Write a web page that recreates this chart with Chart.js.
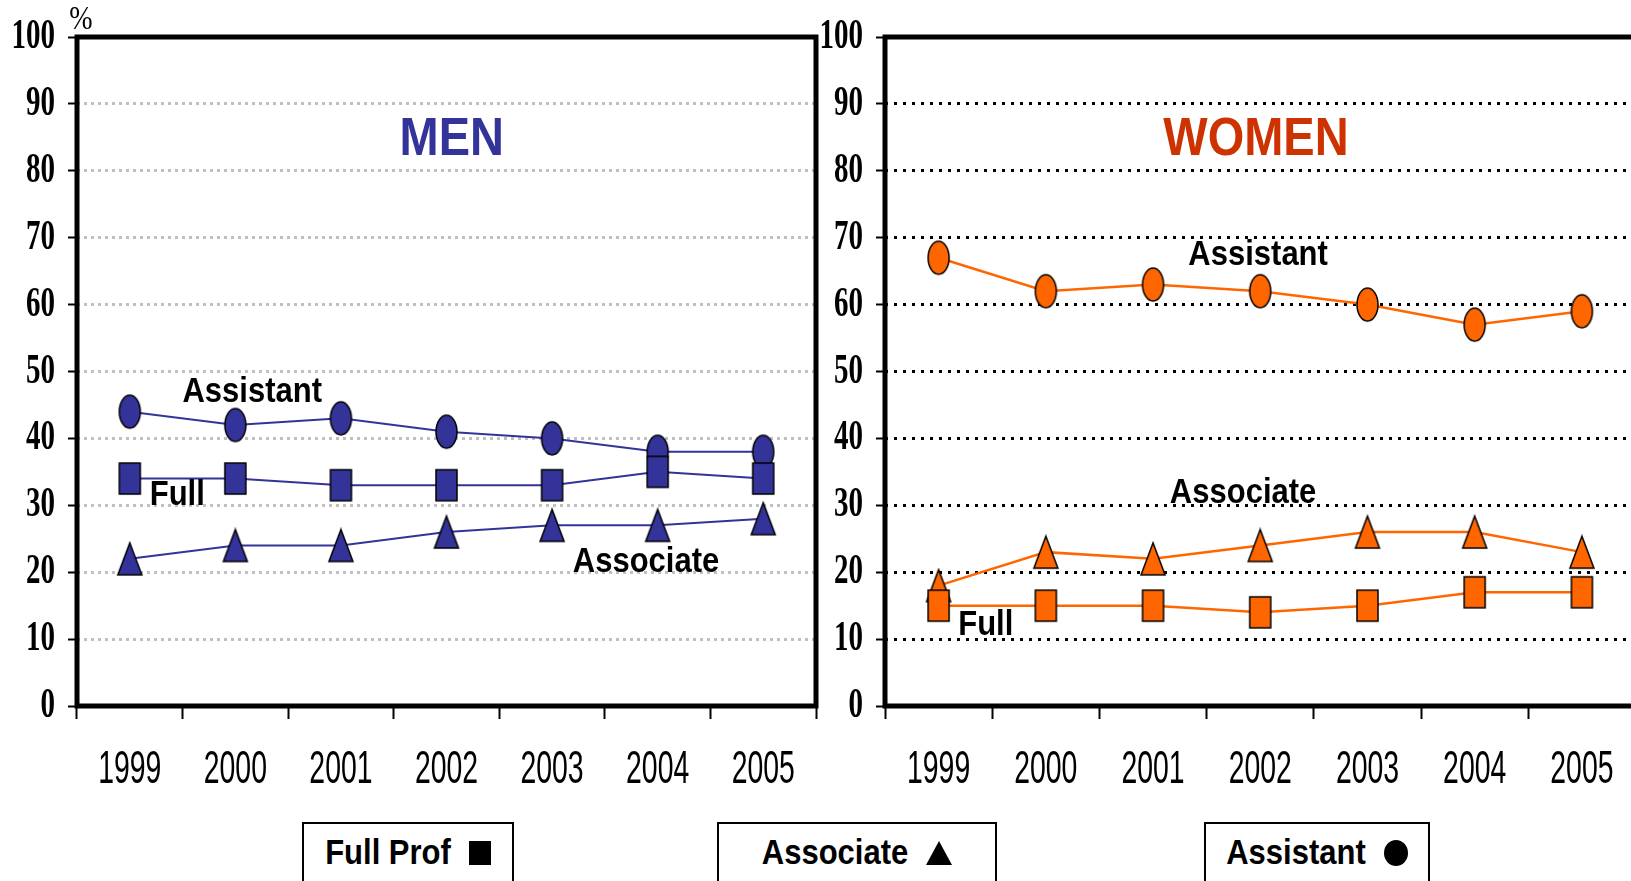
<!DOCTYPE html>
<html lang="en">
<head>
<meta charset="UTF-8">
<title>Men and women by rank, 1999-2005</title>
<script src="https://cdn.jsdelivr.net/npm/chart.js"></script>
<style>
  html, body { margin: 0; padding: 0; background: #fff; overflow: hidden; width: 1631px; height: 881px; }
  canvas { position: absolute; top: 0; }
  #men { left: 0; }
  #women { left: 800px; }
  .key {
    position: absolute; top: 822px; height: 62px; box-sizing: border-box;
    border: 2px solid #000; background: #fff; z-index: 2;
    display: flex; align-items: center; justify-content: center;
    font: bold 31px "Liberation Sans", Arial, sans-serif; color: #000;
  }
  .key b { display: inline-block; transform: scaleY(1.12); font-weight: bold; }
  .sq { display: inline-block; width: 22px; height: 24px; background: #000; margin-left: 18px; }
  .tri { display: inline-block; width: 0; height: 0; margin-left: 18px;
         border-left: 13px solid transparent; border-right: 13px solid transparent; border-bottom: 24px solid #000; }
  .dot { display: inline-block; width: 24px; height: 26px; border-radius: 50%; background: #000; margin-left: 18px; }
</style>
</head>
<body>

<canvas id="men" width="830" height="881"></canvas>
<canvas id="women" width="850" height="881"></canvas>

<div class="key" style="left:302px;width:212px"><b>Full Prof</b><span class="sq"></span></div>
<div class="key" style="left:717px;width:280px"><b>Associate</b><span class="tri"></span></div>
<div class="key" style="left:1204px;width:226px"><b>Assistant</b><span class="dot"></span></div>

<script>
// values (percent)
const years = ['1999', '2000', '2001', '2002', '2003', '2004', '2005'];
const menFull = [34, 34, 33, 33, 33, 35, 34];
const menAssociate = [22, 24, 24, 26, 27, 27, 28];
const menAssistant = [44, 42, 43, 41, 40, 38, 38];
const womenFull = [15, 15, 15, 14, 15, 17, 17];
const womenAssociate = [18, 23, 22, 24, 26, 26, 23];
const womenAssistant = [67, 62, 63, 62, 60, 57, 59];

const NAVY = '#333399';
const ORANGE = '#FF6600';

// marker shapes drawn once into small canvases
function marker(shape, fill, w, h) {
  const c = document.createElement('canvas');
  c.width = w + 4; c.height = h + 4;
  const g = c.getContext('2d');
  g.fillStyle = fill; g.strokeStyle = '#000'; g.lineWidth = 1.5;
  g.beginPath();
  if (shape === 'ellipse') g.ellipse(c.width / 2, c.height / 2, w / 2, h / 2, 0, 0, Math.PI * 2);
  else if (shape === 'rect') g.rect(2, 2, w, h);
  else { g.moveTo(c.width / 2, 2); g.lineTo(w + 2, h + 2); g.lineTo(2, h + 2); g.closePath(); }
  g.fill(); g.stroke();
  return c;
}

function stretchText(ctx, text, x, y, font, sx, sy, align) {
  ctx.save();
  ctx.font = font;
  ctx.textAlign = align || 'center';
  ctx.textBaseline = 'middle';
  ctx.translate(x, y);
  ctx.scale(sx, sy);
  ctx.fillText(text, 0, 0);
  ctx.restore();
}

// thick black box round the plot area
const frame = {
  id: 'frame',
  beforeDatasetsDraw(chart) {
    const { ctx, chartArea: a } = chart;
    ctx.save();
    ctx.lineWidth = 5;
    ctx.strokeStyle = '#000';
    ctx.strokeRect(a.left, a.top, a.right - a.left, a.bottom - a.top);
    ctx.restore();
  }
};

// tall, narrow tick labels and the text notes inside the plot
const axisText = {
  id: 'axisText',
  afterDraw(chart, args, opts) {
    const { ctx, scales: { x, y } } = chart;
    ctx.save();
    ctx.fillStyle = '#000';
    y.ticks.forEach((t, i) => stretchText(ctx, String(t.value), y.right - 22, y.getPixelForTick(i),
      'bold 29px "Liberation Serif", "Times New Roman", serif', 1, 1.48, 'right'));
    x.ticks.forEach((t, i) => stretchText(ctx, x.getLabelForValue(t.value), x.getPixelForTick(i), 770,
      '33px "Liberation Sans", Arial, sans-serif', 0.86, 1.4));
    (opts.notes || []).forEach(n => {
      ctx.fillStyle = n.color || '#000';
      stretchText(ctx, n.text, x.getPixelForValue(n.x), y.getPixelForValue(n.y),
        n.font || 'bold 31px "Liberation Sans", Arial, sans-serif', 1, n.sy || 1.12);
    });
    if (opts.percent) {
      ctx.fillStyle = '#000';
      stretchText(ctx, '%', y.right + 4, 20, '28px "Liberation Serif", serif', 1, 1.2);
    }
    ctx.restore();
  }
};

function series(data, color, lineWidth, style) {
  return {
    data: data, borderColor: color, borderWidth: lineWidth, tension: 0,
    pointStyle: style, pointRadius: 12, backgroundColor: color
  };
}

function makeChart(id, cfg) {
  return new Chart(document.getElementById(id), {
    type: 'line',
    data: {
      labels: years,
      datasets: [
        series(cfg.full, cfg.color, cfg.lineWidth, marker('rect', cfg.color, 21, 31)),
        series(cfg.associate, cfg.color, cfg.lineWidth, marker('tri', cfg.color, 24, 32)),
        series(cfg.assistant, cfg.color, cfg.lineWidth, marker('ellipse', cfg.color, 21, 33))
      ]
    },
    options: {
      responsive: false,
      animation: false,
      events: [],
      layout: { padding: { top: 37, left: 0, right: cfg.padRight, bottom: 75 } },
      plugins: {
        legend: { display: false },
        tooltip: { enabled: false },
        axisText: { notes: cfg.notes, percent: cfg.percent }
      },
      scales: {
        x: {
          type: 'category',
          offset: true,
          grid: { offset: true, drawOnChartArea: false, tickLength: 13, tickColor: '#000', tickWidth: 2 },
          border: { display: false },
          ticks: { display: false },
          afterFit(s) { s.height = 100; }
        },
        y: {
          min: 0, max: 100,
          ticks: { stepSize: 10, display: false },
          grid: { color: cfg.gridColor, lineWidth: 3, tickLength: 9, tickColor: '#000', tickWidth: 2, tickBorderDash: [] },
          border: { display: false, dash: cfg.dash },
          afterFit(s) { s.width = cfg.axisWidth; }
        }
      }
    },
    plugins: [frame, axisText]
  });
}

makeChart('men', {
  full: menFull, associate: menAssociate, assistant: menAssistant,
  color: NAVY, lineWidth: 2, gridColor: '#c0c0c0', dash: [3, 4],
  axisWidth: 77, padRight: 10, percent: true,
  notes: [
    { text: 'MEN', x: 3.05, y: 84.6, color: NAVY, font: 'bold 47px "Liberation Sans", Arial, sans-serif', sy: 1.13 },
    { text: 'Assistant', x: 1.16, y: 46.9 },
    { text: 'Full', x: 0.45, y: 31.5 },
    { text: 'Associate', x: 4.89, y: 21.5 }
  ]
});

makeChart('women', {
  full: womenFull, associate: womenAssociate, assistant: womenAssistant,
  color: ORANGE, lineWidth: 2.5, gridColor: '#000', dash: [3, 6],
  axisWidth: 85, padRight: 13, percent: false,
  notes: [
    { text: 'WOMEN', x: 2.96, y: 84.6, color: '#CC3300', font: 'bold 47px "Liberation Sans", Arial, sans-serif', sy: 1.13 },
    { text: 'Assistant', x: 2.98, y: 67.3 },
    { text: 'Associate', x: 2.84, y: 31.8 },
    { text: 'Full', x: 0.44, y: 12.1 }
  ]
});
</script>
</body>
</html>
